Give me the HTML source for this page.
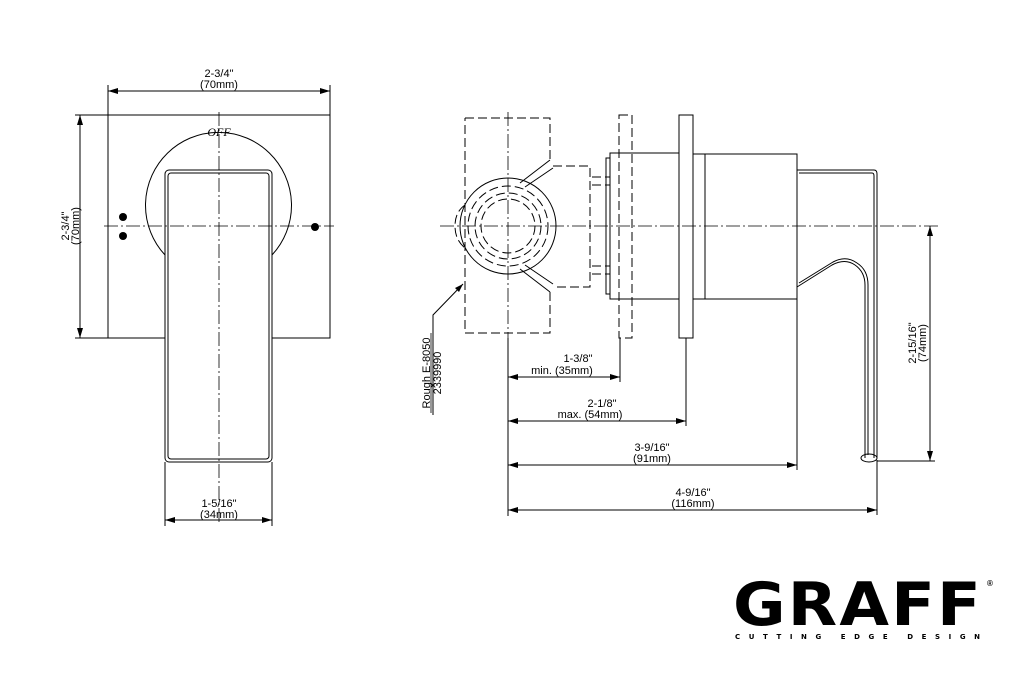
<!DOCTYPE html>
<html><head><meta charset="utf-8"><style>
html,body{margin:0;padding:0;background:#fff;}
svg{display:block;}
text{font-family:"Liberation Sans",sans-serif;font-size:11px;fill:#000;}
</style></head><body>
<svg width="1034" height="675" viewBox="0 0 1034 675" xmlns="http://www.w3.org/2000/svg">
<defs>
<marker id="a" markerWidth="10" markerHeight="6" refX="10" refY="3" orient="auto-start-reverse" markerUnits="userSpaceOnUse"><path d="M0,0 L10,3 L0,6 z" fill="#000"/></marker>
</defs>
<g stroke="#000" fill="none" stroke-width="1">
<!-- FRONT VIEW -->
<rect x="108" y="115" width="222" height="223"/>
<path d="M165,255 A73,73 0 1 1 272,255" fill="#fff"/>
<rect x="165" y="170" width="107" height="292" rx="4" fill="#fff"/>
<rect x="168" y="173" width="101" height="286" rx="3"/>
<g stroke-dasharray="14,3,2,3" stroke-width="0.8">
<line x1="219" y1="112" x2="219" y2="522"/>
<line x1="104" y1="226" x2="334" y2="226"/>
</g>
<line x1="108" y1="85" x2="108" y2="115"/><line x1="330" y1="85" x2="330" y2="115"/>
<line x1="108" y1="91" x2="330" y2="91" marker-start="url(#a)" marker-end="url(#a)"/>
<line x1="75" y1="115" x2="108" y2="115"/><line x1="75" y1="338" x2="165" y2="338"/><line x1="272" y1="338" x2="330" y2="338"/>
<line x1="80" y1="115" x2="80" y2="338" marker-start="url(#a)" marker-end="url(#a)"/>
<line x1="165" y1="462" x2="165" y2="526"/><line x1="272" y1="462" x2="272" y2="526"/>
<line x1="165" y1="520" x2="272" y2="520" marker-start="url(#a)" marker-end="url(#a)"/>

<!-- SIDE VIEW rough -->
<g stroke-dasharray="9,4">
<path d="M465,118 H550 V160 M550,292 V333 H465 V118"/>
<path d="M553,166 H590 V287 H553"/>
<rect x="619" y="115" width="13" height="223"/>
<circle cx="508" cy="226" r="40"/>
<circle cx="508" cy="226" r="33"/>
<circle cx="508" cy="226" r="27"/>
<path d="M592,177 H610 M592,185 H610 M592,266 H610 M592,274 H610"/>
<path d="M465,205 Q455,212 455,226 Q455,240 465,248"/>
</g>
<circle cx="508" cy="226" r="48"/>
<path d="M520,183 L550,160 M525,187 L553,168 M520,269 L550,292 M525,265 L553,284"/>
<rect x="610" y="153" width="69" height="146"/>
<rect x="606" y="158" width="4" height="136"/>
<rect x="679" y="115" width="14" height="223" fill="#fff"/>
<rect x="693" y="154" width="12" height="145"/>
<rect x="705" y="154" width="92" height="145"/>
<!-- lever -->
<path d="M797,170 H874 Q877,170 877,174 V458"/>
<path d="M799,173 H872 Q874,173 874,176 V458"/>
<path d="M797,287 L832,265 Q845,258 855,265 Q865,272 865,285 V458"/>
<path d="M799,283 L833,262 Q846,255 857,263 Q868,270 868,285 V455"/>
<ellipse cx="869" cy="458" rx="8" ry="4"/>
<g stroke-dasharray="14,3,2,3" stroke-width="0.8">
<line x1="508" y1="112" x2="508" y2="340"/>
<line x1="440" y1="226" x2="940" y2="226"/>
</g>
<line x1="508" y1="338" x2="508" y2="516"/>
<line x1="620" y1="338" x2="620" y2="382"/>
<line x1="686" y1="338" x2="686" y2="426"/>
<line x1="797" y1="299" x2="797" y2="470"/>
<line x1="877" y1="460" x2="877" y2="515"/>
<line x1="508" y1="377" x2="620" y2="377" marker-start="url(#a)" marker-end="url(#a)"/>
<line x1="508" y1="421" x2="686" y2="421" marker-start="url(#a)" marker-end="url(#a)"/>
<line x1="508" y1="465" x2="797" y2="465" marker-start="url(#a)" marker-end="url(#a)"/>
<line x1="508" y1="510" x2="877" y2="510" marker-start="url(#a)" marker-end="url(#a)"/>
<line x1="877" y1="461" x2="935" y2="461"/>
<line x1="930" y1="226" x2="930" y2="461" marker-start="url(#a)" marker-end="url(#a)"/>
<path d="M433,415 V315 L463,284"/>
</g>
<path d="M463,284 L455,288 L459,292 z"/>
<circle cx="123" cy="217" r="4"/><circle cx="123" cy="236" r="4"/><circle cx="315" cy="227" r="4"/>
<text x="219" y="136" text-anchor="middle" style="font-family:'Liberation Serif',serif;font-style:italic;font-size:12px">OFF</text>
<text x="219" y="77" text-anchor="middle">2-3/4"</text>
<text x="219" y="88" text-anchor="middle">(70mm)</text>
<text transform="translate(69,226) rotate(-90)" text-anchor="middle">2-3/4"</text>
<text transform="translate(79,226) rotate(-90)" text-anchor="middle">(70mm)</text>
<text x="219" y="507" text-anchor="middle">1-5/16"</text>
<text x="219" y="518" text-anchor="middle">(34mm)</text>
<text x="578" y="362" text-anchor="middle">1-3/8"</text>
<text x="562" y="374" text-anchor="middle">min. (35mm)</text>
<text x="602" y="407" text-anchor="middle">2-1/8"</text>
<text x="590" y="418" text-anchor="middle">max. (54mm)</text>
<text x="652" y="451" text-anchor="middle">3-9/16"</text>
<text x="652" y="462" text-anchor="middle">(91mm)</text>
<text x="693" y="496" text-anchor="middle">4-9/16"</text>
<text x="693" y="507" text-anchor="middle">(116mm)</text>
<text transform="translate(916,343) rotate(-90)" text-anchor="middle">2-15/16"</text>
<text transform="translate(926,343) rotate(-90)" text-anchor="middle">(74mm)</text>
<text transform="translate(430,373) rotate(-90)" text-anchor="middle">Rough E-8050</text>
<text transform="translate(441,373) rotate(-90)" text-anchor="middle">2339990</text>
<line x1="431" y1="333" x2="431" y2="413" stroke="#000" stroke-width="0.8"/>
<text x="733" y="625" style="font-family:'DejaVu Sans','Liberation Sans',sans-serif;font-weight:bold;font-size:60px;letter-spacing:2px" textLength="250" lengthAdjust="spacingAndGlyphs">GRAFF</text>
<text x="987" y="586" style="font-size:8px;font-weight:bold">®</text>
<text x="735" y="639" style="font-family:'DejaVu Sans',sans-serif;font-weight:bold;font-size:7px" textLength="245" lengthAdjust="spacing">CUTTING EDGE DESIGN</text>
</svg>
</body></html>
